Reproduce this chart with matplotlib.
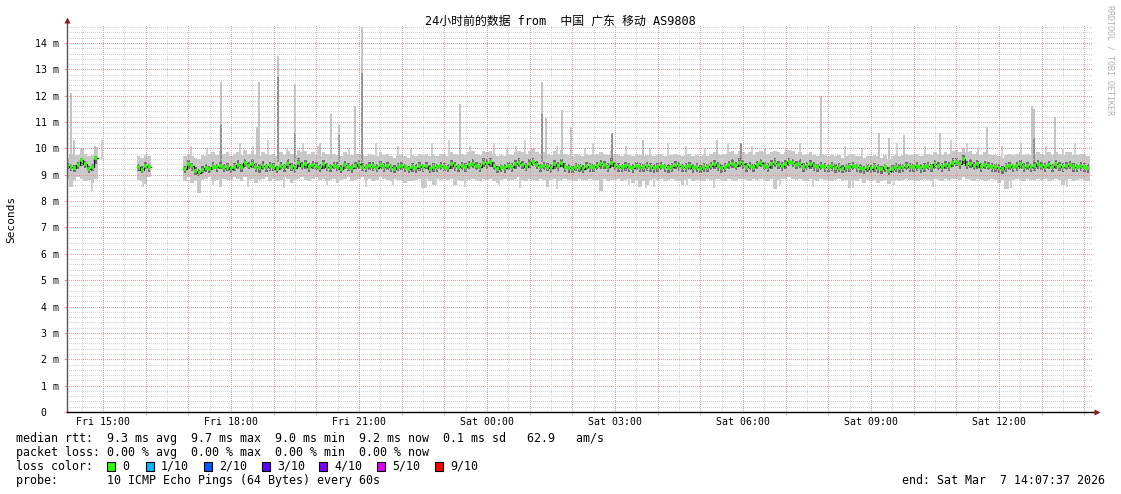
import numpy as np
import matplotlib
matplotlib.use('Agg')
import matplotlib.pyplot as plt
from matplotlib.patches import Rectangle

nan = float('nan')

# ---------------- data (ms), 5-minute samples starting Fri 14:10 ----------------
t_start = 14 + 10 / 60
t_step = 5 / 60

median_rtt = [
    9.35, 9.30, 9.25, 9.38, 9.55, 9.40, 9.22, 9.30, 9.62,
    nan, nan, nan, nan, nan, nan, nan, nan, nan, nan, nan,
    9.30, 9.18, 9.35, 9.28,
    nan, nan, nan, nan, nan, nan, nan, nan, nan,
    9.20,
    9.40, 9.32, 9.15, 9.05, 9.18, 9.25, 9.22, 9.30, 9.28, 9.35, 9.25, 9.30,
    9.20, 9.30, 9.38, 9.28, 9.45, 9.35, 9.40, 9.30, 9.25, 9.35, 9.28, 9.32,
    9.30, 9.20, 9.35, 9.28, 9.40, 9.30, 9.25, 9.45, 9.35, 9.40, 9.30, 9.38,
    9.32, 9.25, 9.40, 9.30, 9.28, 9.35, 9.30, 9.22, 9.38, 9.30, 9.25, 9.35,
    9.40, 9.30, 9.28, 9.35, 9.32, 9.25, 9.38, 9.30, 9.35, 9.28, 9.22, 9.30,
    9.35, 9.28, 9.20, 9.30, 9.25, 9.32, 9.28, 9.35, 9.22, 9.30, 9.28, 9.35,
    9.30, 9.25, 9.40, 9.32, 9.28, 9.35, 9.30, 9.38, 9.42, 9.35, 9.30, 9.45,
    9.40, 9.50, 9.35, 9.20, 9.28, 9.25, 9.35, 9.30, 9.40, 9.45, 9.38, 9.30,
    9.42, 9.50, 9.38, 9.28, 9.35, 9.30, 9.25, 9.40, 9.32, 9.45, 9.30, 9.25,
    9.20, 9.30, 9.28, 9.22, 9.35, 9.30, 9.28, 9.35, 9.40, 9.38, 9.30, 9.45,
    9.35, 9.30, 9.28, 9.32, 9.30, 9.25, 9.35, 9.30, 9.28, 9.32, 9.30, 9.25,
    9.30, 9.35, 9.28, 9.25, 9.30, 9.38, 9.32, 9.28, 9.30, 9.35, 9.25, 9.30,
    9.22, 9.30, 9.28, 9.35, 9.40, 9.32, 9.25, 9.30, 9.38, 9.42, 9.35, 9.45,
    9.40, 9.30, 9.35, 9.28, 9.38, 9.45, 9.35, 9.30, 9.40, 9.45, 9.38, 9.32,
    9.40, 9.50, 9.45, 9.38, 9.42, 9.30, 9.35, 9.40, 9.32, 9.28, 9.35, 9.30,
    9.28, 9.32, 9.25, 9.30, 9.22, 9.28, 9.30, 9.35, 9.28, 9.25, 9.20, 9.28,
    9.22, 9.30, 9.25, 9.20, 9.28, 9.15, 9.22, 9.30, 9.25, 9.28, 9.35, 9.30,
    9.28, 9.32, 9.25, 9.30, 9.35, 9.28, 9.40, 9.35, 9.30, 9.38, 9.32, 9.45,
    9.50, 9.40, 9.60, 9.38, 9.42, 9.35, 9.40, 9.30, 9.38, 9.35, 9.30, 9.28,
    9.25, 9.20, 9.30, 9.35, 9.28, 9.32, 9.40, 9.30, 9.35, 9.28, 9.32, 9.40,
    9.35, 9.30, 9.38, 9.28, 9.40, 9.32, 9.30, 9.35, 9.38, 9.30, 9.28, 9.32,
    9.30, 9.25,
]

smoke_low = [
    8.85, 8.55, 8.80, 8.90, 8.85, 8.75, 8.80, 8.70, 8.85,
    nan, nan, nan, nan, nan, nan, nan, nan, nan, nan, nan,
    8.80, 8.75, 8.65, 8.90,
    nan, nan, nan, nan, nan, nan, nan, nan, nan,
    8.75,
    8.90, 8.70, 8.75, 8.30, 8.80, 8.85, 8.90, 8.75, 8.80, 8.55, 8.85, 8.80,
    8.80, 8.90, 8.85, 8.75, 8.90, 8.80, 8.85, 8.70, 8.80, 8.85, 8.90, 8.75,
    8.85, 8.75, 8.80, 8.90, 8.85, 8.70, 8.80, 8.85, 8.90, 8.80, 8.75, 8.85,
    8.90, 8.80, 8.85, 8.75, 8.80, 8.85, 8.70, 8.80, 8.85, 8.90, 8.75, 8.80,
    8.85, 8.90, 8.80, 8.85, 8.75, 8.80, 8.90, 8.85, 8.80, 8.75, 8.85, 8.80,
    8.80, 8.70, 8.75, 8.75, 8.80, 8.85, 8.50, 8.85, 8.75, 8.60, 8.85, 8.80,
    8.85, 8.80, 8.85, 8.60, 8.80, 8.75, 8.85, 8.80, 8.85, 8.80, 8.75, 8.85,
    8.80, 8.85, 8.75, 8.70, 8.80, 8.85, 8.75, 8.80, 8.85, 8.90, 8.80, 8.75,
    8.85, 8.80, 8.75, 8.85, 8.80, 8.55, 8.80, 8.85, 8.75, 8.80, 8.85, 8.80,
    8.80, 8.75, 8.85, 8.80, 8.75, 8.85, 8.80, 8.80, 8.40, 8.85, 8.75, 8.80,
    8.80, 8.85, 8.75, 8.80, 8.85, 8.70, 8.80, 8.55, 8.75, 8.60, 8.80, 8.85,
    8.80, 8.85, 8.75, 8.80, 8.85, 8.80, 8.75, 8.60, 8.80, 8.85, 8.75, 8.80,
    8.80, 8.75, 8.85, 8.80, 8.75, 8.85, 8.80, 8.75, 8.85, 8.80, 8.75, 8.85,
    8.85, 8.80, 8.75, 8.85, 8.80, 8.85, 8.80, 8.75, 8.85, 8.45, 8.80, 8.85,
    8.85, 8.90, 8.85, 8.80, 8.85, 8.80, 8.75, 8.85, 8.80, 8.75, 8.85, 8.80,
    8.80, 8.75, 8.80, 8.85, 8.75, 8.80, 8.50, 8.80, 8.75, 8.85, 8.70, 8.80,
    8.75, 8.80, 8.70, 8.75, 8.80, 8.65, 8.75, 8.80, 8.75, 8.80, 8.85, 8.80,
    8.80, 8.75, 8.80, 8.85, 8.80, 8.75, 8.85, 8.80, 8.75, 8.85, 8.80, 8.85,
    8.85, 8.80, 8.90, 8.85, 8.80, 8.75, 8.85, 8.80, 8.75, 8.80, 8.85, 8.80,
    8.70, 8.80, 8.45, 8.75, 8.80, 8.85, 8.80, 8.75, 8.85, 8.80, 8.75, 8.85,
    8.80, 8.85, 8.75, 8.80, 8.85, 8.80, 8.60, 8.80, 8.85, 8.75, 8.80, 8.85,
    8.80, 8.75,
]

smoke_high = [
    9.65, 9.80, 9.70, 9.75, 10.00, 9.80, 9.70, 9.75, 10.05,
    nan, nan, nan, nan, nan, nan, nan, nan, nan, nan, nan,
    9.70, 9.65, 9.75, 9.70,
    nan, nan, nan, nan, nan, nan, nan, nan, nan,
    9.70,
    9.75, 9.70, 9.65, 9.60, 9.75, 9.70, 9.80, 9.85, 9.75, 9.90, 9.80, 9.85,
    9.70, 9.80, 9.85, 9.75, 9.95, 9.80, 9.90, 9.75, 9.70, 9.85, 9.80, 9.75,
    9.80, 9.70, 9.85, 9.75, 9.90, 9.80, 9.75, 9.95, 9.85, 9.90, 9.80, 9.85,
    9.75, 9.70, 9.85, 9.80, 9.75, 9.80, 9.75, 9.70, 9.85, 9.80, 9.75, 9.80,
    9.80, 9.75, 9.70, 9.80, 9.75, 9.70, 9.85, 9.75, 9.80, 9.70, 9.65, 9.75,
    9.75, 9.70, 9.65, 9.75, 9.70, 9.80, 9.75, 9.80, 9.70, 9.75, 9.70, 9.80,
    9.75, 9.70, 9.85, 9.80, 9.75, 9.80, 9.75, 9.85, 9.90, 9.80, 9.75, 9.90,
    9.85, 9.90, 9.80, 9.70, 9.75, 9.70, 9.80, 9.75, 9.85, 9.90, 9.85, 9.80,
    9.90, 10.00, 9.85, 9.80, 9.85, 9.80, 9.75, 9.90, 9.80, 9.95, 9.80, 9.75,
    9.70, 9.80, 9.75, 9.70, 9.80, 9.75, 9.75, 9.80, 9.85, 9.80, 9.75, 9.90,
    9.80, 9.75, 9.70, 9.80, 9.75, 9.70, 9.80, 9.75, 9.70, 9.75, 9.75, 9.70,
    9.75, 9.80, 9.70, 9.75, 9.75, 9.80, 9.75, 9.70, 9.75, 9.80, 9.70, 9.75,
    9.70, 9.75, 9.70, 9.80, 9.85, 9.80, 9.75, 9.80, 9.85, 9.90, 9.80, 9.90,
    9.85, 9.80, 9.85, 9.75, 9.85, 9.90, 9.85, 9.80, 9.85, 9.90, 9.85, 9.80,
    9.85, 9.95, 9.90, 9.80, 9.85, 9.75, 9.80, 9.85, 9.75, 9.70, 9.80, 9.75,
    9.70, 9.75, 9.70, 9.75, 9.65, 9.70, 9.75, 9.80, 9.70, 9.70, 9.65, 9.70,
    9.70, 9.75, 9.70, 9.65, 9.75, 9.60, 9.70, 9.75, 9.70, 9.75, 9.80, 9.75,
    9.75, 9.80, 9.70, 9.75, 9.80, 9.75, 9.85, 9.80, 9.75, 9.85, 9.80, 9.90,
    9.95, 9.85, 10.00, 9.85, 9.90, 9.80, 9.85, 9.75, 9.85, 9.80, 9.75, 9.75,
    9.70, 9.65, 9.75, 9.80, 9.75, 9.80, 9.85, 9.75, 9.80, 9.75, 9.80, 9.85,
    9.80, 9.75, 9.85, 9.75, 9.85, 9.80, 9.75, 9.85, 9.85, 9.75, 9.75, 9.80,
    9.75, 9.70,
]

core_low = [
    9.20, 9.15, 9.10, 9.22, 9.35, 9.25, 9.05, 9.15, 9.40,
    nan, nan, nan, nan, nan, nan, nan, nan, nan, nan, nan,
    9.15, 9.05, 9.20, 9.12,
    nan, nan, nan, nan, nan, nan, nan, nan, nan,
    9.05,
    9.22, 9.15, 9.00, 8.95, 9.05, 9.10, 9.05, 9.18, 9.12, 9.20, 9.10, 9.15,
    9.05, 9.15, 9.22, 9.10, 9.28, 9.20, 9.25, 9.12, 9.08, 9.18, 9.10, 9.15,
    9.15, 9.05, 9.18, 9.12, 9.22, 9.15, 9.08, 9.28, 9.18, 9.22, 9.12, 9.20,
    9.18, 9.10, 9.22, 9.15, 9.12, 9.20, 9.15, 9.05, 9.22, 9.15, 9.08, 9.20,
    9.22, 9.15, 9.12, 9.18, 9.15, 9.10, 9.20, 9.12, 9.18, 9.12, 9.05, 9.15,
    9.18, 9.10, 9.05, 9.12, 9.08, 9.15, 9.10, 9.20, 9.05, 9.12, 9.10, 9.18,
    9.15, 9.10, 9.22, 9.15, 9.12, 9.18, 9.12, 9.20, 9.25, 9.18, 9.12, 9.28,
    9.22, 9.30, 9.18, 9.05, 9.10, 9.08, 9.18, 9.12, 9.22, 9.28, 9.20, 9.15,
    9.25, 9.32, 9.20, 9.12, 9.18, 9.15, 9.08, 9.22, 9.15, 9.28, 9.12, 9.08,
    9.05, 9.15, 9.12, 9.05, 9.18, 9.12, 9.10, 9.18, 9.22, 9.20, 9.12, 9.28,
    9.18, 9.12, 9.10, 9.15, 9.12, 9.08, 9.18, 9.12, 9.10, 9.15, 9.12, 9.08,
    9.12, 9.18, 9.10, 9.08, 9.12, 9.20, 9.15, 9.10, 9.12, 9.18, 9.08, 9.12,
    9.05, 9.12, 9.10, 9.18, 9.22, 9.15, 9.08, 9.12, 9.20, 9.25, 9.18, 9.28,
    9.22, 9.12, 9.18, 9.10, 9.20, 9.28, 9.18, 9.12, 9.22, 9.28, 9.20, 9.15,
    9.22, 9.32, 9.28, 9.20, 9.25, 9.12, 9.18, 9.22, 9.15, 9.10, 9.18, 9.12,
    9.10, 9.15, 9.08, 9.12, 9.05, 9.10, 9.12, 9.18, 9.10, 9.08, 9.02, 9.10,
    9.05, 9.12, 9.08, 9.02, 9.10, 9.00, 9.05, 9.12, 9.08, 9.10, 9.18, 9.12,
    9.10, 9.15, 9.08, 9.12, 9.18, 9.10, 9.22, 9.18, 9.12, 9.20, 9.15, 9.28,
    9.32, 9.22, 9.40, 9.20, 9.25, 9.18, 9.22, 9.12, 9.20, 9.18, 9.12, 9.10,
    9.08, 9.02, 9.12, 9.18, 9.10, 9.15, 9.22, 9.12, 9.18, 9.10, 9.15, 9.22,
    9.18, 9.12, 9.20, 9.10, 9.22, 9.15, 9.12, 9.18, 9.20, 9.12, 9.10, 9.15,
    9.12, 9.08,
]

core_high = [
    9.45, 9.42, 9.38, 9.50, 9.65, 9.52, 9.35, 9.42, 9.72,
    nan, nan, nan, nan, nan, nan, nan, nan, nan, nan, nan,
    9.42, 9.32, 9.48, 9.40,
    nan, nan, nan, nan, nan, nan, nan, nan, nan,
    9.35,
    9.55, 9.45, 9.30, 9.22, 9.32, 9.40, 9.35, 9.48, 9.40, 9.50, 9.42, 9.45,
    9.35, 9.45, 9.55, 9.42, 9.60, 9.50, 9.58, 9.45, 9.40, 9.52, 9.42, 9.48,
    9.45, 9.35, 9.50, 9.42, 9.58, 9.45, 9.40, 9.62, 9.50, 9.55, 9.45, 9.52,
    9.48, 9.40, 9.55, 9.45, 9.42, 9.50, 9.48, 9.38, 9.52, 9.45, 9.40, 9.50,
    9.55, 9.45, 9.42, 9.50, 9.48, 9.40, 9.52, 9.45, 9.50, 9.42, 9.38, 9.45,
    9.50, 9.42, 9.35, 9.45, 9.40, 9.48, 9.42, 9.50, 9.38, 9.45, 9.42, 9.50,
    9.45, 9.40, 9.55, 9.48, 9.42, 9.50, 9.45, 9.52, 9.58, 9.50, 9.45, 9.62,
    9.58, 9.65, 9.50, 9.35, 9.42, 9.40, 9.50, 9.45, 9.55, 9.62, 9.52, 9.45,
    9.58, 9.65, 9.52, 9.42, 9.50, 9.45, 9.40, 9.55, 9.48, 9.60, 9.45, 9.40,
    9.35, 9.45, 9.42, 9.38, 9.50, 9.45, 9.42, 9.50, 9.55, 9.52, 9.45, 9.62,
    9.50, 9.45, 9.42, 9.48, 9.45, 9.40, 9.50, 9.45, 9.42, 9.48, 9.45, 9.40,
    9.45, 9.50, 9.42, 9.40, 9.45, 9.52, 9.48, 9.42, 9.45, 9.50, 9.40, 9.45,
    9.38, 9.45, 9.42, 9.50, 9.55, 9.48, 9.40, 9.45, 9.52, 9.58, 9.50, 9.62,
    9.55, 9.45, 9.50, 9.42, 9.52, 9.60, 9.50, 9.45, 9.55, 9.62, 9.52, 9.48,
    9.55, 9.65, 9.60, 9.52, 9.58, 9.45, 9.50, 9.55, 9.48, 9.42, 9.50, 9.45,
    9.42, 9.48, 9.40, 9.45, 9.38, 9.42, 9.45, 9.50, 9.42, 9.40, 9.35, 9.42,
    9.38, 9.45, 9.40, 9.35, 9.42, 9.30, 9.38, 9.45, 9.40, 9.42, 9.50, 9.45,
    9.42, 9.48, 9.40, 9.45, 9.50, 9.42, 9.55, 9.50, 9.45, 9.52, 9.48, 9.62,
    9.65, 9.55, 9.75, 9.52, 9.58, 9.50, 9.55, 9.45, 9.52, 9.50, 9.45, 9.42,
    9.40, 9.35, 9.45, 9.50, 9.42, 9.48, 9.55, 9.45, 9.50, 9.42, 9.48, 9.55,
    9.50, 9.45, 9.52, 9.42, 9.55, 9.48, 9.45, 9.50, 9.52, 9.45, 9.42, 9.48,
    9.45, 9.40,
]

# isolated tall single-ping spikes: time (hours since Fri 00:00), top (ms), darker part top (ms, 0 = none)
spike_time = [14.25, 14.32, 14.53, 14.81, 17.77, 18.61, 18.66, 19.10, 19.50, 20.09,
              20.34, 20.53, 20.91, 21.07, 23.37, 25.29, 25.38, 25.76, 25.97, 26.93,
              27.66, 29.39, 29.95, 30.52, 31.83, 33.19, 33.42, 33.77, 34.62, 35.72,
              36.77, 36.82, 37.31]
spike_top = [12.1, 10.3, 10.0, 10.1, 12.5, 10.8, 12.5, 13.5, 12.45, 10.2,
             11.3, 10.9, 11.6, 14.6, 11.7, 12.5, 11.15, 11.45, 10.8, 10.6,
             10.3, 10.3, 10.2, 10.0, 12.0, 10.6, 10.4, 10.5, 10.6, 10.8,
             11.6, 11.5, 11.2]
spike_dark = [0, 0, 0, 0, 10.9, 0, 0, 12.7, 10.6, 0,
              0, 10.5, 0, 12.85, 0, 11.3, 0, 0, 0, 10.6,
              0, 0, 10.2, 0, 0, 0, 0, 0, 0, 0,
              0, 10.4, 0]

# short single-ping whiskers above and below the smoke band
whisker_up_time = [14.98, 17.06, 17.44, 18.21, 18.51, 18.87, 19.32, 19.69, 20.04, 20.77,
                   21.40, 21.92, 22.22, 22.71, 23.11, 23.60, 24.16, 24.47, 24.68, 24.89,
                   25.64, 26.30, 26.48, 27.26, 27.82, 28.24, 28.66, 29.11, 29.65, 30.21,
                   31.01, 31.34, 32.39, 32.79, 33.61, 34.26, 34.87, 35.25, 35.51, 36.07,
                   36.52, 37.10, 37.50, 37.78]
whisker_up_top = [10.3, 10.1, 10.0, 10.2, 10.1, 10.3, 10.0, 10.2, 10.1, 10.0,
                  10.2, 10.1, 10.0, 10.2, 10.3, 10.1, 10.2, 10.0, 10.1, 10.3,
                  10.1, 10.0, 10.2, 10.1, 10.0, 10.2, 10.1, 10.0, 10.2, 10.1,
                  10.0, 10.2, 10.1, 10.0, 10.2, 10.1, 10.3, 10.2, 10.0, 10.1,
                  10.2, 10.1, 10.0, 10.2]
whisker_dn_time = [14.75, 15.94, 17.27, 17.58, 18.40, 19.24, 20.25, 21.16, 21.79, 22.57,
                   22.81, 23.49, 24.27, 24.77, 25.64, 26.70, 27.33, 27.73, 27.91, 28.68,
                   29.32, 30.86, 31.63, 32.57, 33.53, 34.45, 36.20, 36.27, 37.60]
whisker_dn_bot = [8.4, 8.55, 8.45, 8.6, 8.55, 8.5, 8.6, 8.55, 8.6, 8.5,
                  8.6, 8.55, 8.6, 8.5, 8.45, 8.4, 8.6, 8.5, 8.55, 8.6,
                  8.5, 8.6, 8.55, 8.5, 8.6, 8.55, 8.45, 8.5, 8.55]

xtick_hours = [15, 18, 21, 24, 27, 30, 33, 36]
xtick_labels = ['Fri 15:00', 'Fri 18:00', 'Fri 21:00', 'Sat 00:00',
                'Sat 03:00', 'Sat 06:00', 'Sat 09:00', 'Sat 12:00']
ytick_values = list(range(0, 15))

loss_labels = ['0', '1/10', '2/10', '3/10', '4/10', '5/10', '9/10']
loss_colors = ['#26ff00', '#00b8ff', '#0059ff', '#5e00ff', '#7e00ff', '#dd00ff', '#ff0000']

title = '24小时前的数据 from  中国 广东 移动 AS9808'
legend_lines = [
    'median rtt:  9.3 ms avg  9.7 ms max  9.0 ms min  9.2 ms now  0.1 ms sd   62.9   am/s',
    'packet loss: 0.00 % avg  0.00 % max  0.00 % min  0.00 % now',
    'loss color:',
    'probe:       10 ICMP Echo Pings (64 Bytes) every 60s',
]
end_text = 'end: Sat Mar  7 14:07:37 2026'

# ---------------- figure ----------------
W, H = 1121, 494
fig = plt.figure(figsize=(W / 100, H / 100), dpi=100)
fig.patch.set_facecolor('white')

def fx(px):
    return px / W

def fy(py):
    return 1 - py / H

X0, X1, Y0, Y1 = 67, 1093, 412, 26
PX_PER_H = 42.667
PX_PER_MS = 26.36
rect = [fx(X0), fy(Y0), fx(X1) - fx(X0), fy(Y1) - fy(Y0)]
xmin = 15 - (103 - X0) / PX_PER_H
xmax = xmin + (X1 - X0) / PX_PER_H
ymax = (Y0 - Y1) / PX_PER_MS

# bottom axes: smoke
ax = fig.add_axes(rect, zorder=0)
# top axes: median line, axis lines, ticks
ax2 = fig.add_axes(rect, zorder=2)
for a in (ax, ax2):
    for s in a.spines.values():
        s.set_visible(False)
    a.set_xlim(xmin, xmax)
    a.set_ylim(0, ymax)
ax.set_facecolor('white')
ax2.patch.set_alpha(0)
ax.set_xticks([])
ax.set_yticks([])

n = len(median_rtt)
assert n == len(smoke_low) == len(smoke_high) == len(core_low) == len(core_high) == 288
t = t_start + np.arange(n) * t_step
med = np.array(median_rtt)
lo = np.array(smoke_low)
hi = np.array(smoke_high)
clo = np.array(core_low)
chi = np.array(core_high)
ok = ~np.isnan(med)

light = '#c8c8c8'
ax.bar(t[ok], hi[ok] - lo[ok], bottom=lo[ok], width=t_step, color=light,
       linewidth=0, zorder=2)
ax.vlines(spike_time, 9.6, spike_top, color='#c2c2c2', lw=1.4, zorder=2)
ax.vlines(whisker_up_time, 9.6, whisker_up_top, color=light, lw=1.2, zorder=2)
ax.vlines(whisker_dn_time, whisker_dn_bot, 9.0, color=light, lw=1.2, zorder=2)
sd = [(a, b) for a, b in zip(spike_time, spike_dark) if b > 0]
ax.vlines([a for a, b in sd], 9.5, [b for a, b in sd], color='#8c8c8c', lw=1.3, zorder=3)
ax.bar(t[ok], chi[ok] - clo[ok], bottom=clo[ok], width=t_step * 0.7, color='#6e6e6e',
       linewidth=0, zorder=3)
ax.set_xlim(xmin, xmax)
ax.set_ylim(0, ymax)

# dotted rrdtool-style grid, placed pixel-exact between the two axes
GW, GH = X1 - X0, Y0 - Y1
grid = np.zeros((GH, GW, 4))
minor_rgba = (0.80, 0.80, 0.80, 1.0)
major_rgba = (1.0, 0.50, 0.50, 1.0)
for k in range(1, int(ymax / 0.2) + 1):
    v = k * 0.2
    r = int(round((ymax - v) * PX_PER_MS))
    if 0 <= r < GH:
        major = (k % 5 == 0)
        grid[r, 0::2] = major_rgba if major else minor_rgba
for k in range(int(np.ceil(xmin * 2)), int(np.floor(xmax * 2)) + 1):
    c = int(round((k / 2 - xmin) * PX_PER_H))
    if 0 <= c < GW:
        major = (k % 2 == 0)
        grid[0::2, c] = major_rgba if major else minor_rgba
fig.figimage(grid, xo=X0, yo=H - Y0, origin='upper', zorder=1, alpha=0.85)

ax2.step(t, med, where='mid', color='#111111', lw=0.9, zorder=4)
ax2.hlines(med[ok], t[ok] - t_step * 0.4, t[ok] + t_step * 0.4, color='#26ff00',
           lw=2.6, zorder=5)

# axes lines and arrows
ax2.plot([xmin, xmin], [0, ymax + 5 / PX_PER_MS], color='#555555', lw=1.0,
         clip_on=False, zorder=6)
ax2.plot([xmin, xmax + 2 / PX_PER_H], [0, 0], color='black', lw=1.0,
         clip_on=False, zorder=6)
ax2.plot([xmin], [ymax + 6 / PX_PER_MS], marker='^', ms=5, color='#8b1a1a',
         clip_on=False, zorder=7, mec='none')
ax2.plot([xmax + 4 / PX_PER_H], [0], marker='>', ms=5, color='#8b1a1a',
         clip_on=False, zorder=7, mec='none')
ax2.set_xlim(xmin, xmax)
ax2.set_ylim(0, ymax)

mono = 'DejaVu Sans Mono'
ax2.set_xticks(xtick_hours)
ax2.set_xticklabels(xtick_labels, fontsize=7.1, family=mono)
ax2.set_xticks([h for h in range(15, 39)], minor=True)
ax2.tick_params(axis='x', which='major', length=0, pad=3.5)
ax2.tick_params(axis='x', which='minor', length=2.5, color='#ff9a9a', direction='out')
ax2.set_yticks(ytick_values)
ax2.set_yticklabels([(' 0  ' if v == 0 else f'{v:2d} m') for v in ytick_values],
                    fontsize=7.1, family=mono)
ax2.tick_params(axis='y', which='major', length=2.5, color='#ff9a9a', pad=3.5)

# title and texts
fig.text(fx(560), fy(21), title, ha='center', va='center', fontsize=8.6,
         family=['DejaVu Sans Mono', 'Noto Sans CJK SC'])
fig.text(fx(11), fy(219), 'Seconds', rotation=90, ha='center', va='center',
         fontsize=8, family=mono)
fig.text(fx(1110), fy(5), 'RRDTOOL / TOBI OETIKER', rotation=270, ha='center',
         va='top', fontsize=6, family=mono, color='#b0b0b0')

ys = [438, 452, 466, 480]
for yy, line in zip(ys, legend_lines):
    fig.text(fx(16), fy(yy), line, ha='left', va='center', fontsize=8.4, family=mono)
fig.text(fx(1105), fy(480), end_text, ha='right', va='center', fontsize=8.4, family=mono)

box_x = [107, 146, 204, 262, 319, 377, 435]
for bx, lab, col in zip(box_x, loss_labels, loss_colors):
    fig.patches.append(Rectangle((fx(bx), fy(471)), 8 / W, 9 / H, transform=fig.transFigure,
                                 facecolor=col, edgecolor='black', lw=0.8))
    fig.text(fx(bx + 15), fy(466), lab, ha='left', va='center', fontsize=8.4, family=mono)

fig.savefig('out.png', dpi=100)
